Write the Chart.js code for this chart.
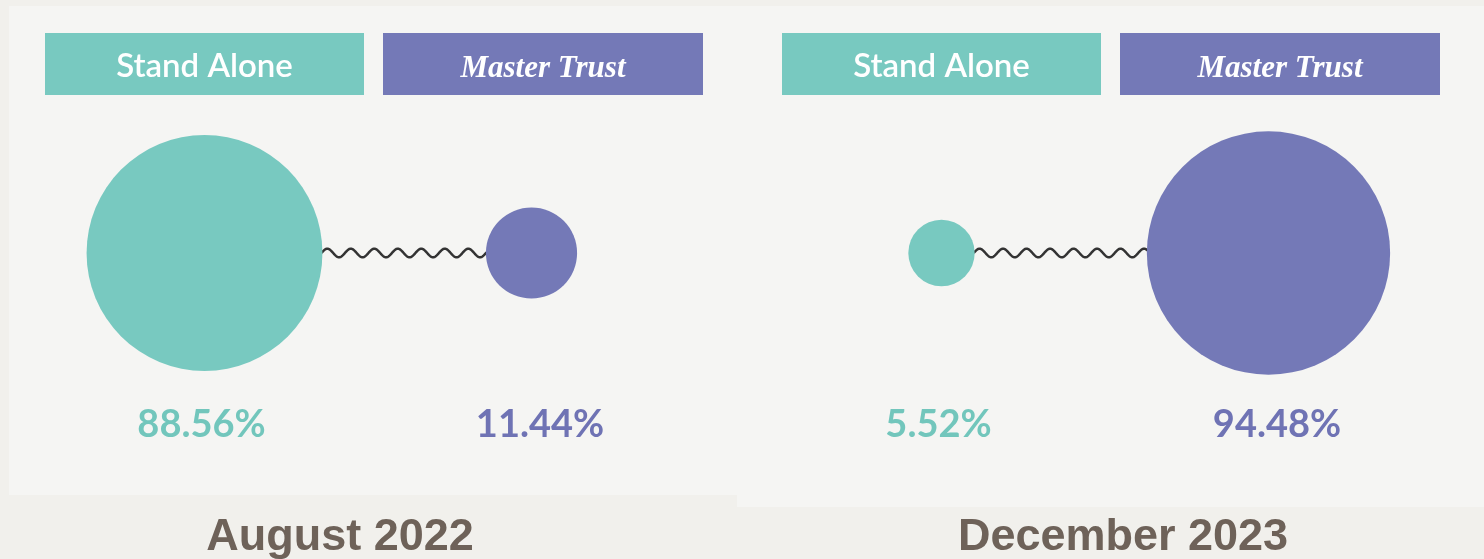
<!DOCTYPE html>
<html><head><meta charset="utf-8">
<script src="https://cdn.jsdelivr.net/npm/chart.js@4.4.1/dist/chart.umd.min.js"></script>
<style>
html,body{margin:0;padding:0;background:#f1f0ec;width:1484px;height:559px;overflow:hidden;}
.panel{position:absolute;background:#f5f5f3;}
.wrap{position:absolute;top:0;height:559px;}
</style></head><body>
<div class="panel" style="left:9px;top:6px;width:728px;height:489px"></div>
<div class="panel" style="left:737px;top:6px;width:747px;height:501px"></div>
<div class="wrap" style="left:0;width:737px"><canvas id="c0"></canvas></div>
<div class="wrap" style="left:737px;width:747px"><canvas id="c1"></canvas></div>
<script>
// ---- data ----
const categories = ['Stand Alone', 'Master Trust'];
const periods = ['August 2022', 'December 2023'];
const standAloneShare = [88.56, 5.52];   // %
const masterTrustShare = [11.44, 94.48]; // %

// ---- styles ----
const seriesColors = ['#78c9c0', '#7479b7'];
const labelColors = ['#72c6bc', '#6f73b4'];
const titleColor = '#6e6259';

function bubbleRadius(v) { return 5 + 12 * Math.sqrt(v); }

const decorPlugin = {
  id: 'decor',
  beforeDatasetsDraw(chart, args, opts) {
    const ctx = chart.ctx;
    // header boxes
    const boxes = [[45, 364], [383, 703]];
    ctx.save();
    boxes.forEach((bx, i) => {
      ctx.fillStyle = seriesColors[i];
      ctx.fillRect(bx[0], 33, bx[1] - bx[0], 62);
      ctx.fillStyle = '#ffffff';
      ctx.textAlign = 'center';
      ctx.textBaseline = 'alphabetic';
      ctx.font = i === 0 ? '600 33px Lato' : 'italic bold 31px "Liberation Serif"';
      ctx.fillText(categories[i], (bx[0] + bx[1]) / 2, 77);
    });
    // wavy connector
    const meta = chart.getDatasetMeta(0);
    const a = meta.data[0], b = meta.data[1];
    const x0 = a.x + a.options.radius - 1, x1 = b.x - b.options.radius + 1;
    const cy = (a.y + b.y) / 2;
    const P = 23.5, A = 4.3;
    ctx.beginPath();
    for (let x = x0; x <= x1; x += 0.5) {
      const y = cy - A * Math.sin(2 * Math.PI * (x - x0) / P);
      if (x === x0) ctx.moveTo(x, y); else ctx.lineTo(x, y);
    }
    ctx.strokeStyle = '#333333';
    ctx.lineWidth = 2.5;
    ctx.lineJoin = 'round';
    ctx.stroke();
    ctx.restore();
  },
  afterDatasetsDraw(chart, args, opts) {
    const ctx = chart.ctx;
    const ds = chart.data.datasets[0];
    ctx.save();
    ctx.textAlign = 'center';
    ctx.textBaseline = 'alphabetic';
    ctx.font = 'bold 38px Lato';
    const labelX = [201.5, 540];
    ds.data.forEach((p, i) => {
      ctx.fillStyle = labelColors[i];
      ctx.fillText(p.v.toFixed(2) + '%', labelX[i], 437);
    });
    ctx.fillStyle = titleColor;
    ctx.font = 'bold 45px "Liberation Sans"';
    ctx.fillText(opts.title, opts.titleX, 550);
    ctx.restore();
  }
};

function makeChart(id, idx, width, titleX) {
  const values = [standAloneShare[idx], masterTrustShare[idx]];
  return new Chart(document.getElementById(id), {
    type: 'bubble',
    data: {
      labels: categories,
      datasets: [{
        data: categories.map((c, i) => ({ x: c, y: 0.5, r: bubbleRadius(values[i]), v: values[i] })),
        backgroundColor: seriesColors,
        borderWidth: 0,
        hoverRadius: 0,
        clip: false
      }]
    },
    options: {
      responsive: true,
      maintainAspectRatio: false,
      animation: false,
      events: [],
      layout: { autoPadding: false, padding: { left: 41, right: width - 695, top: 100, bottom: 153 } },
      scales: {
        x: { type: 'category', labels: categories, offset: true, display: false },
        y: { type: 'linear', min: 0, max: 1, display: false }
      },
      plugins: {
        legend: { display: false },
        tooltip: { enabled: false },
        title: { display: false },
        decor: { title: periods[idx], titleX: titleX }
      }
    },
    plugins: [decorPlugin]
  });
}

makeChart('c0', 0, 737, 340);
makeChart('c1', 1, 747, 386);
</script>
</body></html>
